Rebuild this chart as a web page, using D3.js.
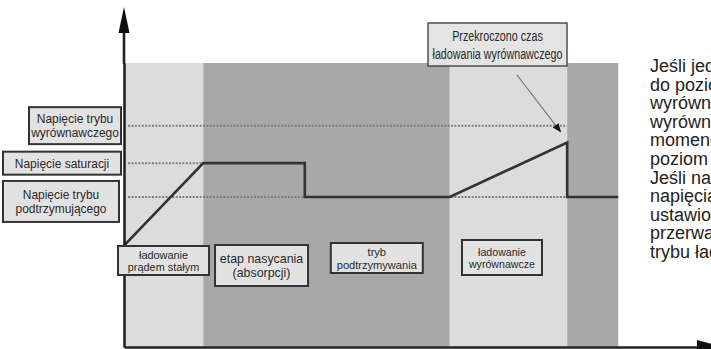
<!DOCTYPE html>
<html>
<head>
<meta charset="utf-8">
<script src="https://cdn.jsdelivr.net/npm/d3@7"></script>
<style>
  html, body { margin: 0; padding: 0; background: #fff; overflow: hidden; }
  svg { display: block; font-family: "Liberation Sans", Arial, sans-serif; }
</style>
</head>
<body>
<svg id="chart" width="711" height="349"></svg>
<script>
// time axis is in arbitrary minutes, voltage in volts
var bandStarts = [0, 13.5, 55.5, 75.5];
var bandEnds = [13.5, 55.5, 75.5, 84.2];
var bandShade = ["light", "dark", "light", "dark"];

var levelNames = ["Napięcie trybu|wyrównawczego", "Napięcie saturacji", "Napięcie trybu|podtrzymującego"];
var levelValues = [15.4, 14.4, 13.5];
var levelEnds = [75.5, 13.5, 75.5];

var curveTime = [0, 13.5, 30.8, 30.8, 55.5, 75.5, 75.5, 84.2];
var curveVolt = [12.2, 14.4, 14.4, 13.5, 13.5, 14.95, 13.5, 13.5];

var phaseNames = ["ładowanie|prądem stałym", "etap nasycania|(absorpcji)", "tryb|podtrzymywania", "ładowanie|wyrównawcze"];
var phaseStarts = [0, 13.5, 30.8, 55.5];
var phaseEnds = [13.5, 30.8, 55.5, 75.5];

var noteText = "Przekroczono czas|ładowania wyrównawczego";

var sideText = [
  "Jeśli jednak napięcie nie wzrośnie",
  "do poziomu napięcia trybu",
  "wyrównawczego, ładowanie",
  "wyrównawcze zostanie przerwane w",
  "momencie upływu czasu, a",
  "poziom napięcia spadnie do trybu",
  "Jeśli napięcie nie osiągnie",
  "napięcia trybu wyrównawczego w",
  "ustawionym czasie, ładowanie zostanie",
  "przerwane i urządzenie przejdzie do",
  "trybu ładowania podtrzymującego."
];

var svg = d3.select("#chart");
var x = d3.scaleLinear().domain([0, 100]).range([124, 711]);
var y = d3.scaleLinear().domain([9.5, 17.07]).range([347, 63]);

var shade = { light: "#dcdcdc", dark: "#a8a8a8" };
var ink = "#333";

// background bands
svg.append("g").selectAll("rect").data(bandStarts).join("rect")
  .attr("x", function(d) { return x(d); })
  .attr("y", y(y.domain()[1]))
  .attr("width", function(d, i) { return x(bandEnds[i]) - x(d); })
  .attr("height", y(y.domain()[0]) - y(y.domain()[1]))
  .attr("fill", function(d, i) { return shade[bandShade[i]]; });

// dotted level lines
svg.append("g").selectAll("line").data(levelValues).join("line")
  .attr("x1", x(0.7))
  .attr("x2", function(d, i) { return x(levelEnds[i]); })
  .attr("y1", function(d) { return y(d); })
  .attr("y2", function(d) { return y(d); })
  .attr("stroke", "#7d7d7d")
  .attr("stroke-width", 2)
  .attr("stroke-dasharray", "2,1.4");

// voltage curve
var line = d3.line()
  .x(function(d) { return x(d); })
  .y(function(d, i) { return y(curveVolt[i]); });
svg.append("path").datum(curveTime)
  .attr("d", line)
  .attr("fill", "none")
  .attr("stroke", ink)
  .attr("stroke-width", 2.6);

// axes
svg.append("g").attr("transform", "translate(0," + y(y.domain()[0]) + ")")
  .call(d3.axisBottom(x).tickValues([]).tickSizeOuter(0))
  .select(".domain").attr("stroke", "#222").attr("stroke-width", 2.6);
svg.append("g").attr("transform", "translate(" + x(0) + ",0)")
  .call(d3.axisLeft(y).tickValues([]).tickSizeOuter(0))
  .select(".domain").attr("stroke", "#222").attr("stroke-width", 2.6);

var x0 = x(0), yb = y(y.domain()[0]);
svg.append("line").attr("x1", x0).attr("x2", x0).attr("y1", y(y.domain()[1]) + 1).attr("y2", 28)
  .attr("stroke", "#222").attr("stroke-width", 2.6);
svg.append("path").attr("d", "M" + x0 + ",7L" + (x0 - 5.5) + ",33L" + (x0 + 5.5) + ",33Z").attr("fill", "#111");
svg.append("path").attr("d", "M724," + yb + "L697," + (yb - 7) + "L697," + (yb + 7) + "Z").attr("fill", "#111");

// label box helper
function box(g, text, bx, by, bw, bh, fs, sx, lh, opts) {
  opts = opts || {};
  var grp = g.append("g");
  grp.append("rect")
    .attr("x", bx).attr("y", by).attr("width", bw).attr("height", bh)
    .attr("fill", opts.fill || "#e2e2e2")
    .attr("stroke", opts.stroke || ink)
    .attr("stroke-width", opts.sw || 2);
  var lines = text.split("|");
  var cx = bx + bw / 2, cy = by + bh / 2 + (opts.dy || 0);
  var t = grp.append("text")
    .attr("transform", "translate(" + cx + "," + cy + ") scale(" + sx + ",1)")
    .attr("text-anchor", "middle")
    .attr("font-size", fs)
    .attr("fill", opts.color || "#2a2a2a");
  lines.forEach(function(s, i) {
    t.append("tspan").attr("x", 0)
      .attr("y", (i - (lines.length - 1) / 2) * lh + fs * 0.36)
      .text(s);
  });
}

var labels = svg.append("g");

// level labels on the left
var levelBoxes = [
  { x: 29, w: 92, h: 37, dy: 0 },
  { x: 3, w: 118, h: 23, dy: 0 },
  { x: 3, w: 116, h: 41, dy: 4.5 }
];
levelNames.forEach(function(name, i) {
  var b = levelBoxes[i];
  box(labels, name, b.x, y(levelValues[i]) + b.dy - b.h / 2, b.w, b.h, 13, 0.92, 14);
});

// phase labels at the bottom
var phaseBoxes = [
  { dx: -0.1, top: 246, w: 91, h: 29, fs: 11.6, lh: 12 },
  { dx: 7.5, top: 245, w: 93, h: 41, fs: 13.2, lh: 14 },
  { dx: -0.5, top: 243, w: 92, h: 30, fs: 11.8, lh: 13.5 },
  { dx: -6.5, top: 240, w: 80, h: 35, fs: 11.3, lh: 12 }
];
phaseNames.forEach(function(name, i) {
  var b = phaseBoxes[i];
  var cx = (x(phaseStarts[i]) + x(phaseEnds[i])) / 2 + b.dx;
  box(labels, name, cx - b.w / 2, b.top, b.w, b.h, b.fs, 0.94, b.lh);
});

// note about equalisation timeout
box(labels, noteText, 428, 23, 139, 43, 14.5, 0.74, 18, { sw: 1.4, stroke: "#444", fill: "#e4e4e4" });

var tipX = x(75.5) - 6, tipY = y(14.95) - 10;
svg.append("line").attr("x1", 517).attr("y1", 75).attr("x2", tipX - 3).attr("y2", tipY - 4)
  .attr("stroke", "#777").attr("stroke-width", 1.2);
var ang = Math.atan2(tipY - 75, tipX - 517);
var hl = 9, hw = 3.6;
var bxp = tipX - hl * Math.cos(ang), byp = tipY - hl * Math.sin(ang);
svg.append("path")
  .attr("d", "M" + tipX + "," + tipY +
    "L" + (bxp + hw * Math.sin(ang)) + "," + (byp - hw * Math.cos(ang)) +
    "L" + (bxp - hw * Math.sin(ang)) + "," + (byp + hw * Math.cos(ang)) + "Z")
  .attr("fill", "#111");

// explanatory text on the right (runs past the edge)
svg.append("g").selectAll("text").data(sideText).join("text")
  .attr("x", 650)
  .attr("y", function(d, i) { return 72 + i * 18.6; })
  .attr("font-size", 18)
  .attr("fill", "#222")
  .text(function(d) { return d; });
</script>
</body>
</html>
